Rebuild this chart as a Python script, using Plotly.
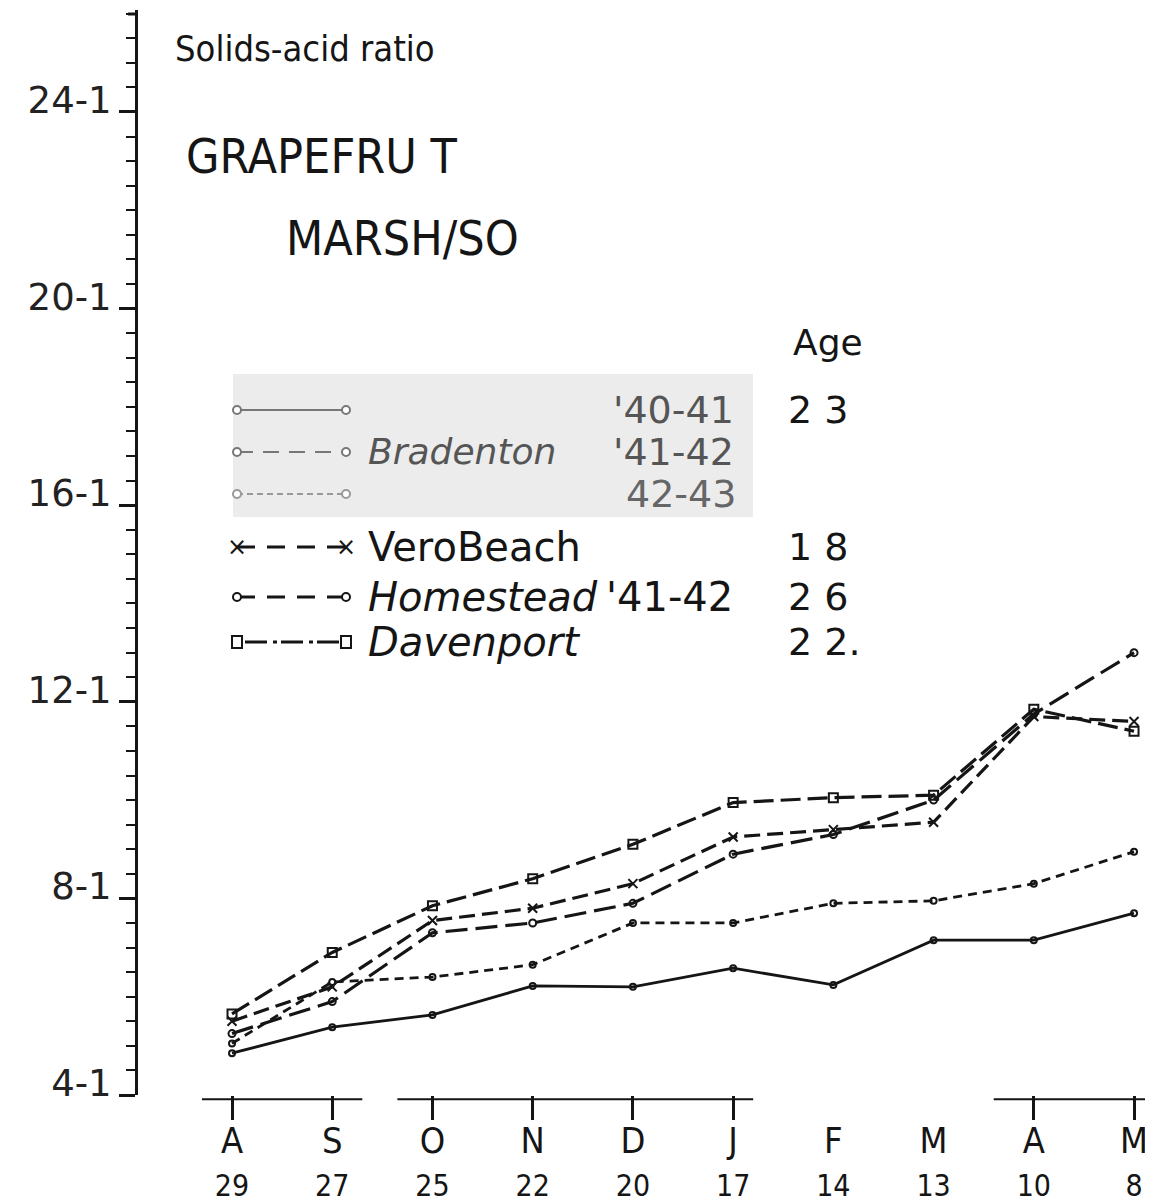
import plotly.graph_objects as go

# ---------------- data ----------------
month_labels = ["A", "S", "O", "N", "D", "J", "F", "M", "A", "M"]
day_labels = ["29", "27", "25", "22", "20", "17", "14", "13", "10", "8"]
xi = list(range(len(month_labels)))
tick_marked = [0, 1, 2, 3, 4, 5, 8, 9]

bradenton_40_41 = [4.85, 5.38, 5.63, 6.22, 6.20, 6.58, 6.24, 7.15, 7.15, 7.70]
bradenton_42_43 = [5.05, 6.30, 6.40, 6.65, 7.50, 7.50, 7.90, 7.95, 8.30, 8.95]
vero_beach = [5.50, 6.20, 7.55, 7.80, 8.30, 9.25, 9.40, 9.55, 11.70, 11.60]
homestead = [5.25, 5.90, 7.30, 7.50, 7.90, 8.90, 9.30, 10.00, 11.75, 13.00]
davenport = [5.65, 6.90, 7.85, 8.40, 9.10, 9.95, 10.05, 10.10, 11.85, 11.40]

y_major = [4, 8, 12, 16, 20, 24]

# ---------------- layout geometry ----------------
W, H = 1153, 1204
L, R, T, B = 130, 0, 2, 117
PW, PH = W - L - R, H - T - B
X_RANGE = [-0.938, 9.269]
Y_RANGE = [4, 26.075]

def px(x, y):
    return (x - L) / PW, (H - B - y) / PH

INK = "#151515"
NARROW = "DejaVu Sans Condensed, Liberation Sans Narrow, DejaVu Sans"
SANS = "DejaVu Sans"

fig = go.Figure()

series = [
    (bradenton_40_41, "solid", "circle-open", 6, 2.8),
    (bradenton_42_43, "9px,6px", "circle-open", 6, 2.8),
    (vero_beach, "16px,7px", "x-thin-open", 9, 3.2),
    (homestead, "22px,8px", "circle-open", 7, 3.2),
    (davenport, "20px,7px", "square-open", 9, 3.2),
]
for ys, dash, sym, ms, lw in series:
    fig.add_trace(go.Scatter(
        x=xi, y=ys, mode="lines+markers",
        line=dict(color=INK, width=lw, dash=dash),
        marker=dict(symbol=sym, size=ms, color=INK, line=dict(color=INK, width=2)),
        showlegend=False, hoverinfo="skip"))

# helper traces for the overlay axes (tick marks / day numbers)
fig.add_trace(go.Scatter(x=xi, y=[None] * 10, xaxis="x2", mode="markers",
                         marker=dict(opacity=0), showlegend=False, hoverinfo="skip"))
fig.add_trace(go.Scatter(x=xi, y=[None] * 10, xaxis="x3", mode="markers",
                         marker=dict(opacity=0), showlegend=False, hoverinfo="skip"))

fig.update_layout(
    width=W, height=H,
    margin=dict(l=L, r=R, t=T, b=B),
    paper_bgcolor="white", plot_bgcolor="white",
    xaxis=dict(range=X_RANGE, tickmode="array", tickvals=xi, ticktext=month_labels,
               ticks="outside", ticklen=14, tickcolor="rgba(0,0,0,0)",
               showline=False, showgrid=False, zeroline=False,
               tickfont=dict(family=NARROW, size=36, color=INK)),
    xaxis2=dict(range=X_RANGE, overlaying="x", anchor="y", side="bottom",
                tickmode="array", tickvals=tick_marked, showticklabels=False,
                ticks="outside", ticklen=24, tickwidth=3, tickcolor=INK,
                showline=False, showgrid=False, zeroline=False),
    xaxis3=dict(range=X_RANGE, overlaying="x", anchor="y", side="bottom",
                tickmode="array", tickvals=xi, ticktext=day_labels,
                ticks="outside", ticklen=64, tickcolor="rgba(0,0,0,0)",
                showline=False, showgrid=False, zeroline=False,
                tickfont=dict(family=NARROW, size=30, color=INK)),
    yaxis=dict(range=Y_RANGE, tickmode="array", tickvals=y_major,
               ticktext=[f"{v}-1" for v in y_major],
               ticks="outside", ticklen=16, tickwidth=3, tickcolor=INK,
               showline=True, linewidth=3, linecolor=INK,
               showgrid=False, zeroline=False, ticklabelshift=-12,
               tickfont=dict(family=SANS, size=37, color="#222222"),
               minor=dict(tickmode="linear", tick0=4, dtick=0.5, ticks="outside",
                          ticklen=9, tickwidth=2, tickcolor=INK, showgrid=False)),
)

shapes = []
# partial horizontal base lines under the plot
for x0, x1 in [(-0.3, 1.3), (1.65, 5.2), (7.6, 9.3)]:
    shapes.append(dict(type="line", xref="x", yref="paper", x0=x0, x1=x1,
                       y0=-0.004, y1=-0.004, line=dict(color=INK, width=2)))
# hook at the top of the y axis
x0p, y0p = px(120, 6)
x1p, _ = px(130, 6)
shapes.append(dict(type="line", xref="paper", yref="paper", x0=x0p, x1=x1p,
                   y0=y0p, y1=y0p, line=dict(color=INK, width=3)))
# grey box behind the Bradenton legend rows
bx0, by0 = px(225, 366)
bx1, by1 = px(745, 509)
shapes.append(dict(type="rect", xref="paper", yref="paper", x0=bx0, x1=bx1,
                   y0=by1, y1=by0, fillcolor="#ececec", line=dict(width=0), layer="below"))

# legend samples
LX0, LX1 = 229, 338
legend_rows = [
    (402, "solid", "circle", "#777777", 2),
    (444, "16px,10px", "circle", "#777777", 2),
    (486, "6px,4px", "circle", "#999999", 2),
    (539, "18px,12px", "x", INK, 3),
    (589, "18px,12px", "circle", INK, 3),
    (634, "4px,4px,22px,6px", "square", INK, 3),
]
for yy, dash, mk, col, lw in legend_rows:
    a, b = px(LX0, yy)
    c, _ = px(LX1, yy)
    shapes.append(dict(type="line", xref="paper", yref="paper", x0=a, x1=c, y0=b, y1=b,
                       line=dict(color=col, width=lw, dash=dash)))
    for xx in (LX0, LX1):
        xp, yp = px(xx, yy)
        if mk == "circle":
            shapes.append(dict(type="circle", xref="paper", yref="paper",
                               xsizemode="pixel", ysizemode="pixel", xanchor=xp, yanchor=yp,
                               x0=-4, x1=4, y0=-4, y1=4, line=dict(color=col, width=2),
                               fillcolor="white"))
        elif mk == "square":
            shapes.append(dict(type="rect", xref="paper", yref="paper",
                               xsizemode="pixel", ysizemode="pixel", xanchor=xp, yanchor=yp,
                               x0=-5, x1=5, y0=-6, y1=6, line=dict(color=col, width=2),
                               fillcolor="white"))
fig.update_layout(shapes=shapes)

annotations = []
def text(x, y, s, size, anchor="left", family=SANS, color=INK):
    xp, yp = px(x, y)
    annotations.append(dict(x=xp, y=yp, xref="paper", yref="paper", text=s,
                            showarrow=False, xanchor=anchor, yanchor="middle",
                            font=dict(family=family, size=size, color=color)))

text(165, 40, "Solids-acid ratio", 36, family=NARROW)
text(176, 148, "GRAPEFRU T", 48, family=NARROW)
text(276, 230, "MARSH/SO", 48, family=NARROW)
text(783, 334, "Age", 36)
text(603, 402, "'40-41", 38, color="#555555")
text(778, 402, "2 3", 38)
text(358, 444, "<i>Bradenton</i>", 36, color="#555555")
text(603, 444, "'41-42", 38, color="#555555")
text(616, 486, "42-43", 38, color="#666666")
text(358, 539, "VeroBeach", 40)
text(778, 539, "1 8", 38)
text(358, 589, "<i>Homestead</i>", 40)
text(596, 589, "'41-42", 40)
text(778, 589, "2 6", 38)
text(358, 634, "<i>Davenport</i>", 40)
text(778, 634, "2 2.", 38)
# x markers for Vero Beach legend
for xx in (LX0, LX1):
    text(xx, 539, "×", 24, anchor="center")
fig.update_layout(annotations=annotations)

fig.write_html("out.html")
